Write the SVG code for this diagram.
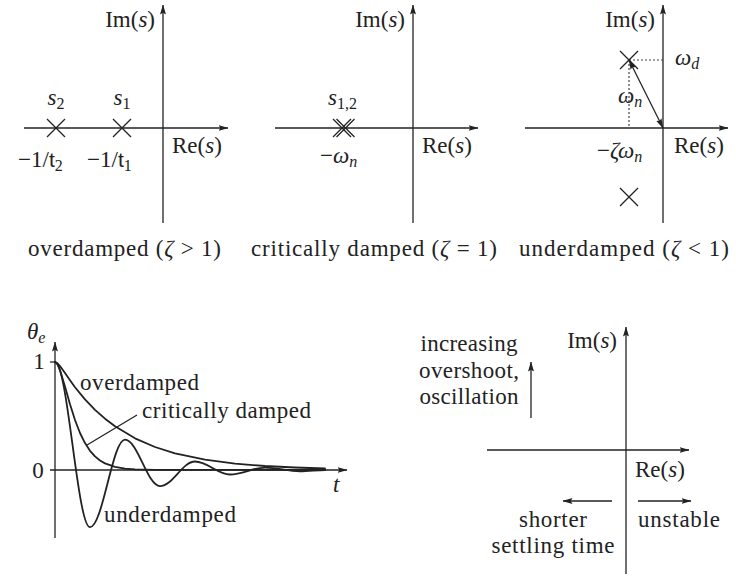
<svg xmlns="http://www.w3.org/2000/svg" width="736" height="576" viewBox="0 0 736 576" font-family="Liberation Serif, DejaVu Serif, serif">
<defs>
<marker id="ah" viewBox="0 0 10 6" refX="9.5" refY="3" markerWidth="10" markerHeight="6" markerUnits="userSpaceOnUse" orient="auto-start-reverse"><path d="M0,0 L10,3 L0,6 L1.8,3 z" fill="#222"/></marker>
<path id="cross" d="M-9,-9 L9,9 M-9,9 L9,-9" stroke="#222" stroke-width="1.3" fill="none"/>
<style>
text{font-family:"Liberation Serif","DejaVu Serif",serif;font-size:23px;fill:#222}
.i{font-style:italic}
.sub{font-size:16px}
.sf{font-family:"Liberation Sans","DejaVu Sans",sans-serif;font-size:21px}
.ax{stroke:#222;stroke-width:1.3;fill:none}
.arr{marker-end:url(#ah)}
.dot{stroke:#444;stroke-width:1.2;stroke-dasharray:2,2;fill:none}
.curve{stroke:#222;stroke-width:1.8;fill:none;stroke-linejoin:round;stroke-linecap:round}
</style>
</defs>
<rect width="736" height="576" fill="#fff"/>

<g id="connectors">
  <path class="ax arr" d="M24,128 H228"/>
  <path class="ax arr" d="M163,223 V5"/>
  <path class="ax arr" d="M275,128 H478"/>
  <path class="ax arr" d="M413,223 V5"/>
  <path class="ax arr" d="M525,128 H728"/>
  <path class="ax arr" d="M663,223 V5"/>
  <path class="dot" d="M629,60 H663 M629,60 V128"/>
  <path class="ax" d="M629,60 L663,128" marker-start="url(#ah)" marker-end="url(#ah)"/>
  <path class="ax arr" d="M50,470 H347"/>
  <path class="ax arr" d="M55,538 V342"/>
  <path class="ax" d="M50,362 H55"/>
  <path class="ax" d="M137,415 L87,445"/>
  <path class="ax arr" d="M487,450 H689"/>
  <path class="ax arr" d="M626,574 V327"/>
  <path class="ax arr" d="M531,418 V362"/>
  <path class="ax arr" d="M612,501 H563"/>
  <path class="ax arr" d="M638,501 H691"/>
</g>

<g id="overdamped-plane">
  <use href="#cross" x="56" y="128"/>
  <use href="#cross" x="122" y="128"/>
  <text x="155" y="27" text-anchor="end">Im(<tspan class="i">s</tspan>)</text>
  <text x="172" y="153">Re(<tspan class="i">s</tspan>)</text>
  <text x="56" y="105" text-anchor="middle"><tspan class="i">s</tspan><tspan class="sub" dy="4">2</tspan></text>
  <text x="122" y="105" text-anchor="middle"><tspan class="i">s</tspan><tspan class="sub" dy="4">1</tspan></text>
  <text x="18" y="167">−1/<tspan class="sf">t</tspan><tspan class="sub" dy="4">2</tspan></text>
  <text x="87" y="167">−1/<tspan class="sf">t</tspan><tspan class="sub" dy="4">1</tspan></text>
  <text x="28" y="256" textLength="193" lengthAdjust="spacing">overdamped (<tspan class="i">ζ</tspan> &gt; 1)</text>
</g>

<g id="critical-plane">
  <use href="#cross" x="342" y="128"/>
  <use href="#cross" x="345.5" y="128"/>
  <text x="405" y="27" text-anchor="end">Im(<tspan class="i">s</tspan>)</text>
  <text x="422" y="153">Re(<tspan class="i">s</tspan>)</text>
  <text x="328" y="105"><tspan class="i">s</tspan><tspan class="sub" dy="4">1,2</tspan></text>
  <text x="320" y="163">−<tspan class="i">ω</tspan><tspan class="sub i" dy="4">n</tspan></text>
  <text x="251" y="256" textLength="246" lengthAdjust="spacing">critically damped (<tspan class="i">ζ</tspan> = 1)</text>
</g>

<g id="underdamped-plane">
  <use href="#cross" x="629" y="60"/>
  <use href="#cross" x="629" y="197"/>
  <text x="655" y="27" text-anchor="end">Im(<tspan class="i">s</tspan>)</text>
  <text x="674" y="153">Re(<tspan class="i">s</tspan>)</text>
  <text x="675" y="65"><tspan class="i">ω</tspan><tspan class="sub i" dy="4">d</tspan></text>
  <text x="618" y="103"><tspan class="i">ω</tspan><tspan class="sub i" dy="4">n</tspan></text>
  <text x="597" y="158">−<tspan class="i">ζω</tspan><tspan class="sub i" dy="4">n</tspan></text>
  <text x="519" y="256" textLength="210" lengthAdjust="spacing">underdamped (<tspan class="i">ζ</tspan> &lt; 1)</text>
</g>

<g id="time-response">
  <text x="27" y="339"><tspan class="i">θ</tspan><tspan class="sub i" dy="4">e</tspan></text>
  <text x="39" y="369" text-anchor="middle">1</text>
  <text x="38" y="478" text-anchor="middle">0</text>
  <text x="333" y="492" class="i">t</text>
  <path class="curve" d="M55,362 L57.5,363.3 L60,366.1 L65,373.1 L70,380.3 L75,387.2 L85,399.4 L95,409.8 L105,418.7 L115,426.3 L135,438.3 L155,447 L175,453.3 L205,459.7 L235,463.6 L265,466 L295,467.5 L325,468.5"/>
  <path class="curve" d="M55,362 L57.5,364.4 L60,370.2 L65,386.6 L70,404.2 L75,420 L80,433 L85,443.1 L90,450.8 L95,456.4 L100,460.5 L105,463.4 L115,466.9 L125,468.6 L135,469.3 L155,469.9 L325,470"/>
  <path class="curve" d="M55,362 C67.7,362 77.3,527.2 90,527.2 C102.7,527.2 112.3,439.7 125,439.7 C137.7,439.7 147.3,486.1 160,486.1 C172.7,486.1 182.3,461.5 195,461.5 C207.7,461.5 217.3,474.5 230,474.5 C242.7,474.5 252.3,467.6 265,467.6 C277.7,467.6 287.3,471.3 300,471.3 C309,471.3 317,470 325,470"/>
  <text x="80" y="390" textLength="119" lengthAdjust="spacing">overdamped</text>
  <text x="142" y="418" textLength="169" lengthAdjust="spacing">critically damped</text>
  <text x="104" y="522" textLength="132" lengthAdjust="spacing">underdamped</text>
</g>

<g id="trend-plane">
  <text x="617" y="348" text-anchor="end">Im(<tspan class="i">s</tspan>)</text>
  <text x="635" y="477">Re(<tspan class="i">s</tspan>)</text>
  <text x="469" y="351" text-anchor="middle" textLength="97" lengthAdjust="spacing">increasing</text>
  <text x="469" y="378" text-anchor="middle" textLength="100" lengthAdjust="spacing">overshoot,</text>
  <text x="469" y="404" text-anchor="middle" textLength="99" lengthAdjust="spacing">oscillation</text>
  <text x="553" y="527" text-anchor="middle" textLength="68" lengthAdjust="spacing">shorter</text>
  <text x="553" y="553" text-anchor="middle" textLength="123" lengthAdjust="spacing">settling time</text>
  <text x="638" y="527" textLength="82" lengthAdjust="spacing">unstable</text>
</g>
</svg>
